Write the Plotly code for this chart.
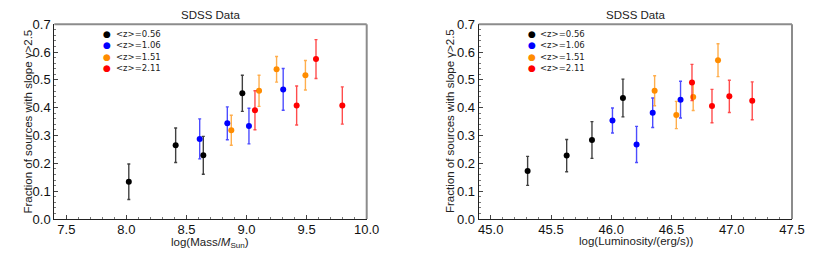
import plotly.graph_objects as go

W, H = 822, 262

labels = ["&lt;z&gt;=0.56", "&lt;z&gt;=1.06", "&lt;z&gt;=1.51", "&lt;z&gt;=2.11"]
colors = ["#000000", "#0000ff", "#ff8c00", "#ff0000"]
err_colors = ["rgba(0,0,0,0.75)", "rgba(0,0,255,0.7)", "rgba(255,140,0,0.7)", "rgba(255,0,0,0.7)"]

# Left panel: mass
mass_x = [
    [8.02, 8.41, 8.64, 8.965],
    [8.61, 8.84, 9.02, 9.305],
    [8.873, 9.104, 9.25, 9.49],
    [9.07, 9.417, 9.578, 9.797],
]
mass_y = [
    [0.134, 0.265, 0.229, 0.452],
    [0.288, 0.344, 0.334, 0.466],
    [0.319, 0.461, 0.538, 0.517],
    [0.391, 0.408, 0.575, 0.408],
]
mass_err = [
    [0.064, 0.062, 0.068, 0.065],
    [0.072, 0.059, 0.064, 0.075],
    [0.054, 0.056, 0.046, 0.053],
    [0.070, 0.070, 0.070, 0.067],
]

# Right panel: luminosity
lum_x = [
    [45.306, 45.63, 45.84, 46.097],
    [46.01, 46.21, 46.344, 46.575],
    [46.36, 46.54, 46.68, 46.886],
    [46.67, 46.836, 46.98, 47.17],
]
lum_y = [
    [0.173, 0.228, 0.284, 0.435],
    [0.354, 0.268, 0.382, 0.429],
    [0.461, 0.374, 0.439, 0.571],
    [0.491, 0.406, 0.441, 0.425],
]
lum_err = [
    [0.052, 0.058, 0.066, 0.068],
    [0.045, 0.065, 0.053, 0.066],
    [0.054, 0.049, 0.049, 0.059],
    [0.065, 0.060, 0.058, 0.068],
]

mass_ticks = [7.5, 8.0, 8.5, 9.0, 9.5, 10.0]
lum_ticks = [45.0, 45.5, 46.0, 46.5, 47.0, 47.5]
y_ticks = [0, 0.1, 0.2, 0.3, 0.4, 0.5, 0.6, 0.7]

fig = go.Figure()

for i in range(4):
    fig.add_trace(go.Scatter(
        x=mass_x[i], y=mass_y[i], mode="markers", xaxis="x", yaxis="y",
        marker=dict(color=colors[i], size=6),
        error_y=dict(type="data", array=mass_err[i], color=err_colors[i], thickness=1.4, width=1.5),
        showlegend=False))
    fig.add_trace(go.Scatter(
        x=lum_x[i], y=lum_y[i], mode="markers", xaxis="x2", yaxis="y2",
        marker=dict(color=colors[i], size=6),
        error_y=dict(type="data", array=lum_err[i], color=err_colors[i], thickness=1.4, width=1.5),
        showlegend=False))

def px(xp):
    return xp / W

def py(yp):
    return (H - yp) / H

ydom = [py(219), py(24.3)]
font_tick = dict(family="Liberation Sans, Arial, sans-serif", size=13, color="#111")

axis_common = dict(showline=True, linecolor="#222", linewidth=1, ticks="inside",
                   ticklen=4, tickcolor="#444", showgrid=False, zeroline=False,
                   tickfont=font_tick, automargin=False)

fig.update_layout(
    width=W, height=H, margin=dict(l=0, r=0, t=0, b=0, autoexpand=False),
    paper_bgcolor="white", plot_bgcolor="white",
    xaxis=dict(domain=[px(54.3), px(366.7)], range=[7.4, 10.0], tickvals=mass_ticks,
               ticktext=[f"{v:.1f}" for v in mass_ticks], anchor="y", ticklabelstandoff=-2,
               minor=dict(ticks="inside", ticklen=2, dtick=0.1, tickcolor="#777"), **axis_common),
    yaxis=dict(domain=ydom, range=[0, 0.7], tickvals=y_ticks,
               ticktext=[f"{v:.1f}" for v in y_ticks], anchor="x",
               minor=dict(ticks="inside", ticklen=2, dtick=0.02, tickcolor="#777"), **axis_common),
    xaxis2=dict(domain=[px(478.7), px(792)], range=[44.9, 47.5], tickvals=lum_ticks,
                ticktext=[f"{v:.1f}" for v in lum_ticks], anchor="y2", ticklabelstandoff=-2,
                minor=dict(ticks="inside", ticklen=2, dtick=0.1, tickcolor="#777"), **axis_common),
    yaxis2=dict(domain=ydom, range=[0, 0.7], tickvals=y_ticks,
                ticktext=[f"{v:.1f}" for v in y_ticks], anchor="x2",
                minor=dict(ticks="inside", ticklen=2, dtick=0.02, tickcolor="#777"), **axis_common),
)

# top/right frame lines (gray)
for xr, yr in [("x domain", "y domain"), ("x2 domain", "y2 domain")]:
    fig.add_shape(type="line", xref=xr, yref=yr, x0=0, x1=1, y0=1, y1=1,
                  line=dict(color="#8c8c8c", width=2))
    fig.add_shape(type="line", xref=xr, yref=yr, x0=1, x1=1, y0=0, y1=1,
                  line=dict(color="#8c8c8c", width=2))

ann_font = dict(family="Liberation Sans, Arial, sans-serif", size=11.5, color="#222")
annotations = []
for cx, xt, yt_x, xtitle, ty in [
    (210.5, 210, 27, "log(Mass/<i>M</i><sub>Sun</sub>)", 242.5),
    (635.3, 636, 449.5, "log(Luminosity/(erg/s))", 241),
]:
    annotations.append(dict(text="SDSS Data", x=px(cx), y=py(15), xref="paper", yref="paper",
                            showarrow=False, font=ann_font, xanchor="center", yanchor="middle"))
    annotations.append(dict(text=xtitle, x=px(xt), y=py(ty), xref="paper", yref="paper",
                            showarrow=False, font=ann_font, xanchor="center", yanchor="middle"))
    annotations.append(dict(text="Fraction of sources with slope γ&gt;2.5", x=px(yt_x), y=py(121.5),
                            xref="paper", yref="paper", showarrow=False, font=ann_font,
                            textangle=-90, xanchor="center", yanchor="middle"))

leg_rows = [34, 45.3, 56.7, 68.1]
for mx in [107.3, 531.7]:
    for i in range(4):
        annotations.append(dict(text="●", x=px(mx), y=py(leg_rows[i]), xref="paper", yref="paper",
                                showarrow=False, xanchor="center", yanchor="middle",
                                font=dict(family="DejaVu Sans", size=9, color=colors[i])))
        annotations.append(dict(text=labels[i], x=px(mx + 6.5), y=py(leg_rows[i]), xref="paper", yref="paper",
                                showarrow=False, xanchor="left", yanchor="middle",
                                font=dict(family="DejaVu Sans", size=8.5, color="#222")))

fig.update_layout(annotations=annotations)

fig.write_html("out.html", config={"displayModeBar": False},
               post_script="document.body.style.margin='0';document.body.style.overflow='hidden';")
